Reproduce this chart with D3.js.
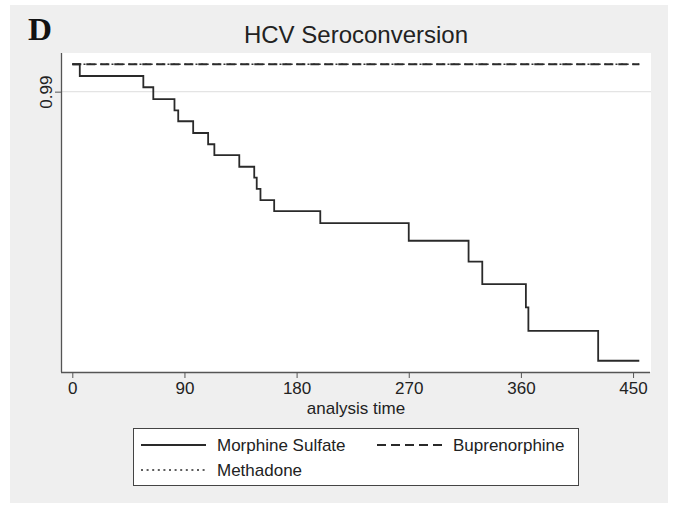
<!DOCTYPE html>
<html>
<head>
<meta charset="utf-8">
<script src="https://cdn.jsdelivr.net/npm/d3@7"></script>
<style>
  body { margin: 0; background: #fff; }
  svg { display: block; font-family: "Liberation Sans", Arial, sans-serif; }
</style>
</head>
<body>
<div id="chart"></div>
<script>
// data
var morphineTime = [0, 6, 57, 65, 82, 85, 97, 109, 114, 134, 146, 148, 151, 162, 199, 270, 318, 329, 364, 366, 422, 455];
var morphineSurv = [1, 0.9957, 0.9916, 0.9873, 0.9832, 0.9792, 0.9749, 0.9708, 0.9668, 0.9626, 0.9586, 0.9545, 0.9504, 0.9464, 0.9420, 0.9356, 0.9280, 0.9198, 0.9113, 0.9027, 0.8918, 0.8918];
var buprenorphineTime = [0, 455];
var buprenorphineSurv = [1, 1];
var methadoneTime = [0, 455];
var methadoneSurv = [1, 1];
var xTicks = [0, 90, 180, 270, 360, 450];
var yTicks = [0.99];
var legendItems = ["Morphine Sulfate", "Buprenorphine", "Methadone"];

var W = 676, H = 506;
var plot = {left: 61, right: 651, top: 53, bottom: 372};

var svg = d3.select("#chart").append("svg")
    .attr("width", W)
    .attr("height", H);

// background
svg.append("rect")
    .attr("x", 10).attr("y", 5)
    .attr("width", 658).attr("height", 498)
    .attr("fill", "#efefef");

svg.append("rect")
    .attr("x", plot.left).attr("y", plot.top)
    .attr("width", plot.right - plot.left).attr("height", plot.bottom - plot.top)
    .attr("fill", "#ffffff");

// scales
var xScale = d3.scaleLinear().domain([-9.07, 464.4]).range([plot.left, plot.right]);
var yScale = d3.scaleLinear().domain([0.8877, 1.0041]).range([plot.bottom, plot.top]);

// grid
svg.append("g").selectAll("line")
    .data(yTicks)
    .enter()
    .append("line")
    .attr("x1", plot.left).attr("x2", plot.right)
    .attr("y1", function(d) { return yScale(d); })
    .attr("y2", function(d) { return yScale(d); })
    .attr("stroke", "#e4e4e4")
    .attr("stroke-width", 1.2);

// axes
var xAxis = svg.append("g")
    .attr("transform", "translate(0," + plot.bottom + ")")
    .call(d3.axisBottom(xScale).tickValues(xTicks).tickSize(6).tickPadding(4).tickSizeOuter(0));
var yAxis = svg.append("g")
    .attr("transform", "translate(" + plot.left + ",0)")
    .call(d3.axisLeft(yScale).tickValues(yTicks).tickSize(6).tickSizeOuter(0).tickFormat(d3.format(".2f")));

[xAxis, yAxis].forEach(function(a) {
    a.select(".domain").attr("stroke", "#555").attr("stroke-width", 1.3);
    a.selectAll(".tick line").attr("stroke", "#555").attr("stroke-width", 1);
    a.selectAll(".tick text")
        .style("font-family", '"Liberation Sans", Arial, sans-serif')
        .style("font-size", "17px")
        .attr("fill", "#222");
});
xAxis.select(".domain").attr("d", "M" + plot.left + ",0.5H" + (plot.right - 1));
yAxis.select(".domain").attr("d", "M0.5," + plot.top + "V" + plot.bottom);

yAxis.selectAll(".tick text")
    .attr("x", null).attr("dy", null)
    .attr("text-anchor", "middle")
    .attr("transform", "translate(-9,0) rotate(-90)");

// step lines
var line = d3.line()
    .x(function(d) { return xScale(d[0]); })
    .y(function(d) { return yScale(d[1]); })
    .curve(d3.curveStepAfter);

function pairs(t, s) { return t.map(function(v, i) { return [v, s[i]]; }); }

svg.append("path")
    .datum(pairs(methadoneTime, methadoneSurv))
    .attr("d", line)
    .attr("fill", "none")
    .attr("stroke", "#333")
    .attr("stroke-width", 1.4)
    .attr("stroke-dasharray", "2,3.6");

svg.append("path")
    .datum(pairs(buprenorphineTime, buprenorphineSurv))
    .attr("d", line)
    .attr("fill", "none")
    .attr("stroke", "#2a2a2a")
    .attr("stroke-width", 1.8)
    .attr("stroke-dasharray", "9,5");

svg.append("path")
    .datum(pairs(morphineTime, morphineSurv))
    .attr("d", line)
    .attr("fill", "none")
    .attr("stroke", "#2a2a2a")
    .attr("stroke-width", 1.8);

// titles
svg.append("text")
    .attr("x", 356).attr("y", 43)
    .attr("text-anchor", "middle")
    .style("font-size", "24px")
    .attr("fill", "#222")
    .text("HCV Seroconversion");

svg.append("text")
    .attr("x", 356).attr("y", 414)
    .attr("text-anchor", "middle")
    .style("font-size", "17px")
    .attr("fill", "#222")
    .text("analysis time");

svg.append("text")
    .attr("x", 28).attr("y", 40)
    .style("font-family", '"Liberation Serif", "Times New Roman", serif')
    .style("font-weight", "bold")
    .style("font-size", "32px")
    .attr("textLength", 24)
    .attr("lengthAdjust", "spacingAndGlyphs")
    .attr("fill", "#111")
    .text("D");

// legend
var lg = svg.append("g");
lg.append("rect")
    .attr("x", 133.5).attr("y", 428.5)
    .attr("width", 445).attr("height", 57)
    .attr("fill", "#fff")
    .attr("stroke", "#444")
    .attr("stroke-width", 1);

var legendPos = [
    {x: 141, y: 445, dash: null},
    {x: 377, y: 445, dash: "9,5"},
    {x: 141, y: 470, dash: "2,3.6"}
];
legendItems.forEach(function(name, i) {
    var p = legendPos[i];
    lg.append("line")
        .attr("x1", p.x).attr("x2", p.x + 65)
        .attr("y1", p.y).attr("y2", p.y)
        .attr("stroke", "#2a2a2a")
        .attr("stroke-width", i == 2 ? 1.4 : 1.8)
        .attr("stroke-dasharray", p.dash);
    lg.append("text")
        .attr("x", p.x + 76).attr("y", p.y + 6)
        .style("font-size", "17px")
        .attr("fill", "#222")
        .text(name);
});
</script>
</body>
</html>
